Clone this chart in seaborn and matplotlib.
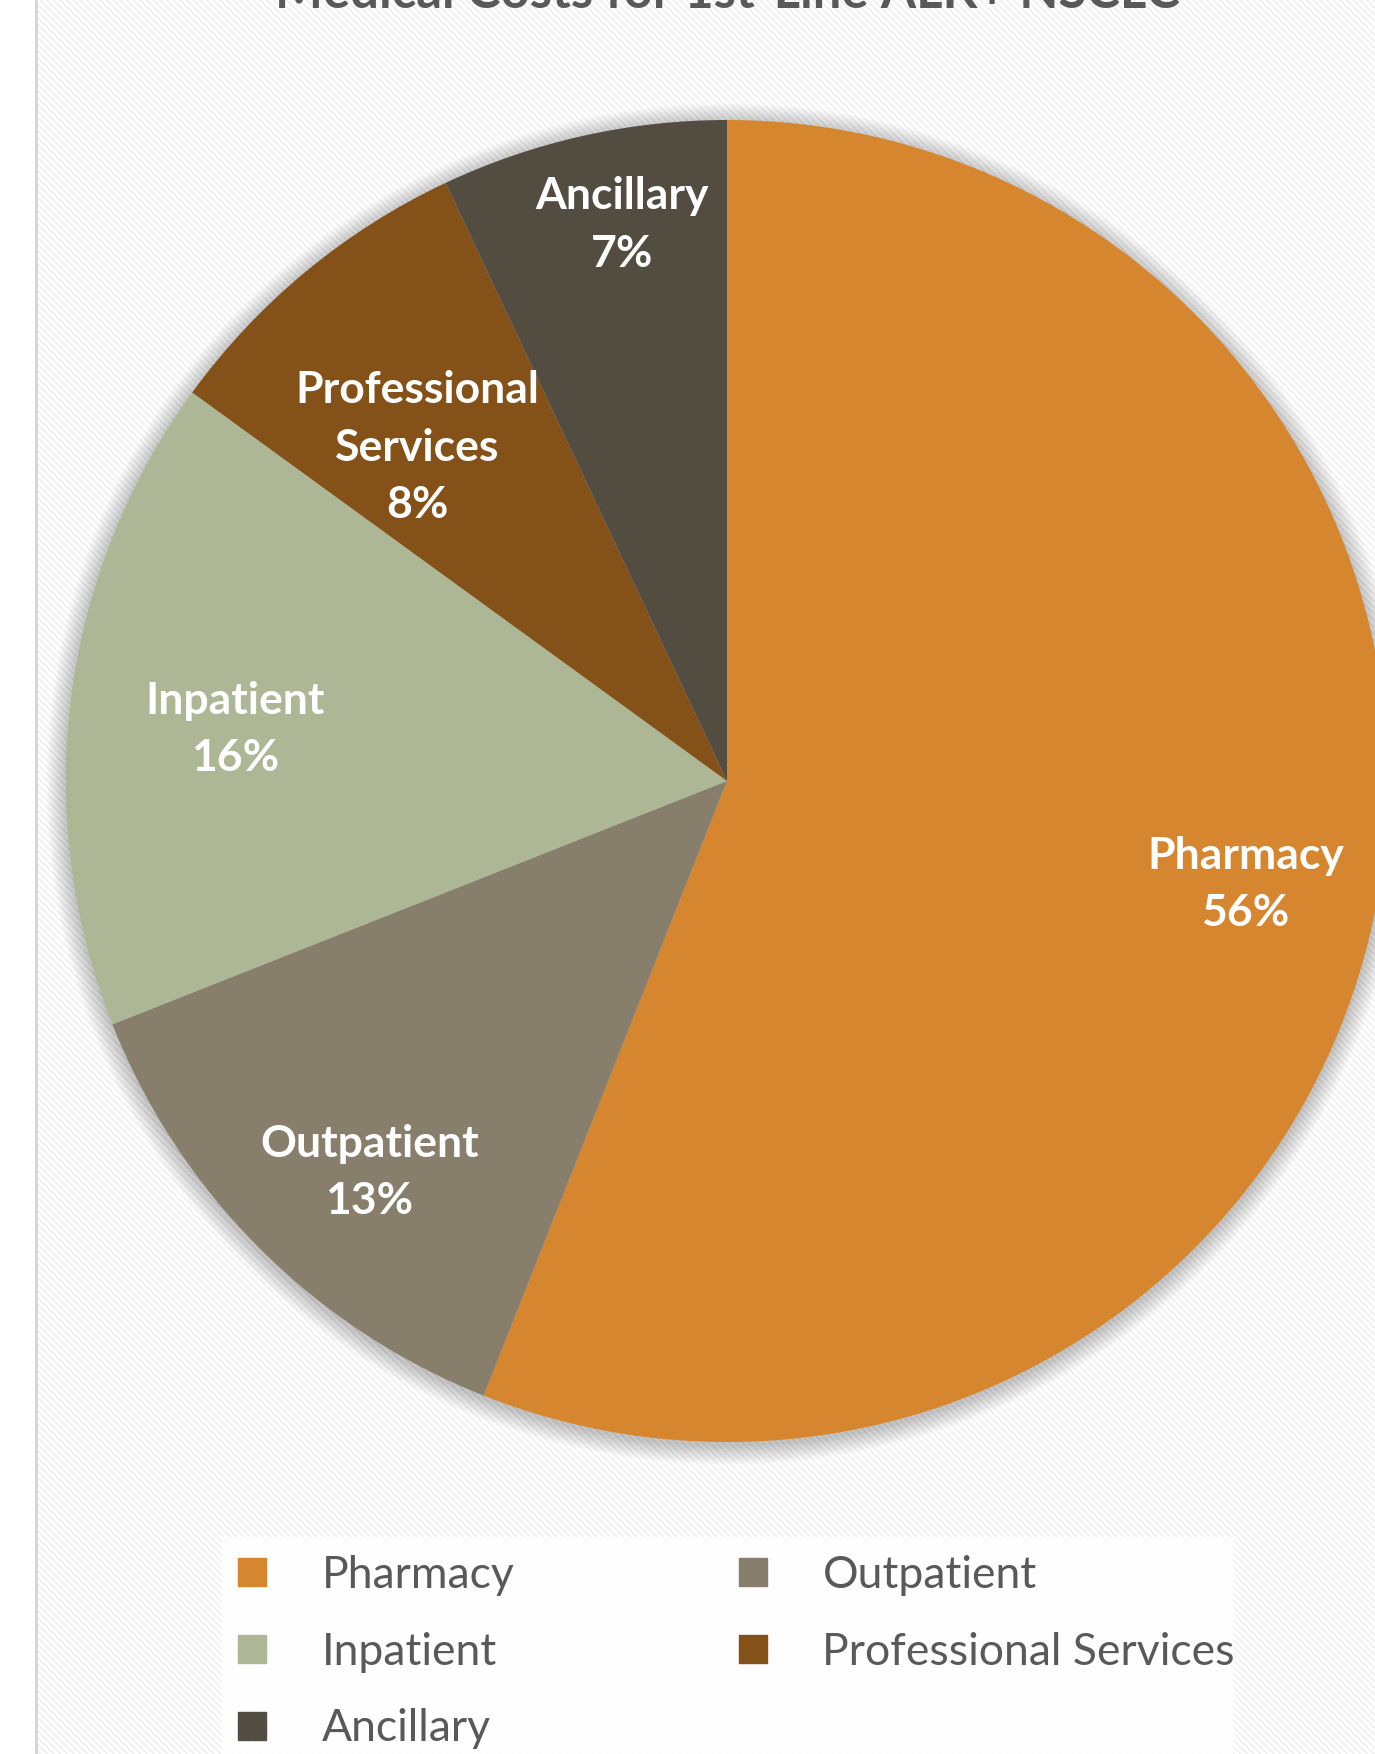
import numpy as np
import matplotlib
matplotlib.use("Agg")
import matplotlib.pyplot as plt
import seaborn as sns
from matplotlib.patches import Rectangle, Circle
from matplotlib.lines import Line2D

# ---- data ----
categories = ["Pharmacy", "Outpatient", "Inpatient", "Professional Services", "Ancillary"]
slice_labels = ["Pharmacy", "Outpatient", "Inpatient", "Professional\nServices", "Ancillary"]
shares = [56, 13, 16, 8, 7]
colors = ["#D5862E", "#877F6C", "#ADB795", "#845119", "#524C41"]
title = "Medical Costs for 1st-Line ALK+ NSCLC"

sns.set_theme(style="white")
plt.rcParams["font.family"] = ["Lato", "DejaVu Sans"]
plt.rcParams["hatch.linewidth"] = 1.0

W, H = 1375, 1754
fig = plt.figure(figsize=(W / 100, H / 100), dpi=100)
fig.patch.set_facecolor("white")
ax = fig.add_axes([0, 0, 1, 1])

cx, cy, R = 727, H - 781, 661

# background with fine diagonal hatch
ax.add_patch(Rectangle((36, 0), W - 36, H, facecolor="white", edgecolor="#EEEEEE",
                       hatch="\\\\\\\\\\", linewidth=0, zorder=0))
ax.plot([36, 36], [0, H], color="#D4D4D4", lw=2, zorder=1)

# soft shadow around the pie
for k in range(1, 30):
    ax.add_patch(Circle((cx, cy - 3), R + k * 0.7, facecolor="black", alpha=0.007,
                        linewidth=0, zorder=2))

wedges, _ = ax.pie(shares, colors=colors, startangle=90, counterclock=False,
                   center=(cx, cy), radius=R, wedgeprops=dict(linewidth=0))
for w in wedges:
    w.set_zorder(3)

label_radii = [0.80, 0.802, 0.748, 0.688, 0.856]
label_turn = [-0.5, 2.6, 1.2, 3.3, -1.9]
for w, lab, s, d, t in zip(wedges, slice_labels, shares, label_radii, label_turn):
    ang = np.deg2rad((w.theta1 + w.theta2) / 2 + t)
    x = cx + d * R * np.cos(ang)
    y = cy + d * R * np.sin(ang)
    ax.text(x, y, f"{lab}\n{s}%", ha="center", va="center", color="white",
            fontweight="bold", fontsize=32, linespacing=1.53, zorder=5)

# title (mostly cut off at the top in the reference)
ax.text(cx, H - 8, title, ha="center", va="baseline", color="#595959",
        fontweight="bold", fontsize=36.5, zorder=5)

# legend
ax.add_patch(Rectangle((222, 0), 1233 - 222, H - 1537, facecolor="white",
                       alpha=0.85, linewidth=0, zorder=4))
handles = [Line2D([], [], marker="s", ls="", markersize=19.5, color=c) for c in colors]
order = [0, 2, 4, 1, 3]
leg = ax.legend([handles[i] for i in order], [categories[i] for i in order], ncol=2,
                frameon=False, loc="upper left",
                bbox_to_anchor=(230 / W, 1 - 1555 / H), bbox_transform=fig.transFigure,
                fontsize=32, handlelength=1.0, handletextpad=1.07, columnspacing=4.85,
                labelspacing=0.8, borderpad=0, borderaxespad=0, labelcolor="#595959")
leg.set_zorder(6)

ax.set_xlim(0, W)
ax.set_ylim(0, H)
ax.set_aspect("auto")
ax.axis("off")

fig.savefig("out.png", dpi=100, facecolor="white")
